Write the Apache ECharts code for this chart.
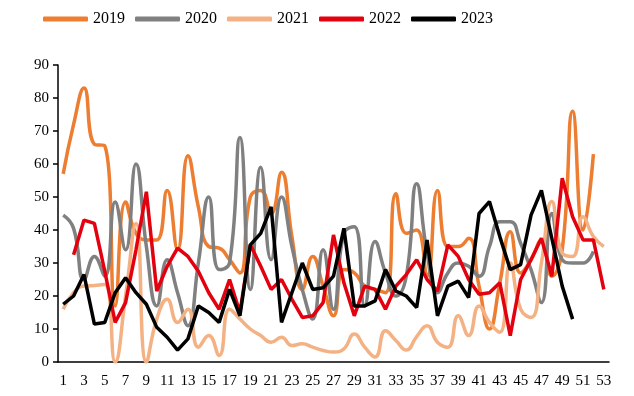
<!DOCTYPE html>
<html>
<head>
<meta charset="utf-8">
<script src="https://cdn.jsdelivr.net/npm/echarts@6/dist/echarts.min.js"></script>
<style>
  html, body { margin: 0; padding: 0; background: #fff; }
  #chart { width: 634px; height: 396px; }
</style>
</head>
<body>
<div id="chart"></div>
<script>
// 周序号 1-53
var weeks = []
for (var i = 1; i <= 53; i++) weeks.push(String(i))

var years = ['2019', '2020', '2021', '2022', '2023']
var colors = ['#ED7D31', '#808080', '#F4B183', '#E3000F', '#000000']

var v2019 = [57, 72, 83, 66, 65.5, 17, 48.5, 39, 37, 37,
  52, 34, 62.5, 47, 35, 34.5, 31, 27, 50, 52,
  45, 57.5, 38, 22, 32, 23, 14, 28, 27, 23,
  22, 21, 51, 39, 40, 26, 52, 35, 35, 37.5,
  23, 10, 24, 39.5, 27, 31, 37, 26, 34, 76,
  40, 63, null]
var v2020 = [44.5, 40.5, 25, 32, 26, 48.5, 34, 60, 35, 17,
  31, 21, 11, 30, 50, 28, 30, 68, 22, 59,
  31, 50, 35, 22, 13, 34, 16, 39, 41, 17,
  36.5, 27, 20, 26, 54, 33, 21, 27, 30, 29,
  26, 35, 42.5, 42.5, 36, 28, 18, 45, 31, 30,
  30, 33.5, null]
var v2021 = [16, 21, 23, 23.2, 23.5, 0, 20, 42, 0, 13,
  19, 12, 16, 4.5, 8, 2, 16, 13, 10, 8,
  6, 7.5, 5, 5.5, 4.5, 3.5, 3, 4, 8.5, 4.5,
  1.5, 9.5, 6.5, 3.6, 7.7, 11, 6, 4.5, 14, 8,
  17, 12, 9, 30, 16, 13.5, 30, 48.6, 33, 32,
  44, 38, 35]
var v2022 = [null, 32.5, 43, 42, 27.5, 12, 18, 34, 51.6, 21.5,
  29, 34.5, 32, 27.5, 21, 16, 25, 15, 35.5, 29,
  22, 25, 19, 13.5, 14, 18, 38.5, 24, 14, 23,
  22, 16, 23, 26.5, 31, 25, 21.5, 35.5, 32, 25,
  20.5, 21, 24, 8, 25, 31, 37.5, 26, 55.7, 44,
  37, 37, 22]
var v2023 = [17.5, 20, 26.5, 11.5, 12, 21, 25.5, 21, 17.5, 10.5,
  7.5, 3.6, 7, 17, 15, 12, 22, 14, 35.5, 39,
  47, 12, 21, 30, 22, 22.5, 26, 40.5, 17, 17,
  18.5, 28, 21.5, 20, 16.5, 37, 14, 23, 24.5, 19.5,
  45, 48.6, 38, 28, 29.5, 44.5, 52, 37.5, 23, 13,
  null, null, null]

var yTicks = [0, 10, 20, 30, 40, 50, 60, 70, 80, 90]

var font = "'Times New Roman', 'Liberation Serif', serif"
var seriesData = [v2019, v2020, v2021, v2022, v2023]
var smoothFlags = [0.5, 0.5, 0.5, false, false]

var chart = echarts.init(document.getElementById('chart'), null, { renderer: 'canvas' })
var option = {
  animation: false,
  backgroundColor: '#ffffff',
  color: colors,
  legend: {
    top: 6,
    left: 38,
    icon: 'roundRect',
    itemWidth: 45,
    itemHeight: 5,
    itemGap: 10,
    textStyle: { fontFamily: font, fontSize: 16, color: '#000' },
    data: years
  },
  grid: {
    left: 58,
    right: 25,
    top: 65,
    bottom: 34,
    containLabel: false
  },
  xAxis: {
    type: 'category',
    data: weeks,
    boundaryGap: true,
    axisLine: { lineStyle: { color: '#000', width: 1.5 } },
    axisTick: { interval: 1, length: 5, lineStyle: { color: '#000', width: 1.5 } },
    axisLabel: { interval: 1, fontFamily: font, fontSize: 15, color: '#000', margin: 12 },
    splitLine: { show: false }
  },
  yAxis: {
    type: 'value',
    min: yTicks[0],
    max: yTicks[yTicks.length - 1],
    interval: 10,
    axisLine: { show: true, lineStyle: { color: '#000', width: 1.5 } },
    axisTick: { show: true, length: 5, lineStyle: { color: '#000', width: 1.5 } },
    axisLabel: { fontFamily: font, fontSize: 15, color: '#000', margin: 9 },
    splitLine: { show: false }
  },
  series: years.map(function (y, idx) {
    return {
      name: y,
      type: 'line',
      data: seriesData[idx],
      smooth: smoothFlags[idx],
      symbol: 'none',
      lineStyle: { width: 3.5, color: colors[idx] },
      itemStyle: { color: colors[idx] }
    }
  })
}
chart.setOption(option)
</script>
</body>
</html>
